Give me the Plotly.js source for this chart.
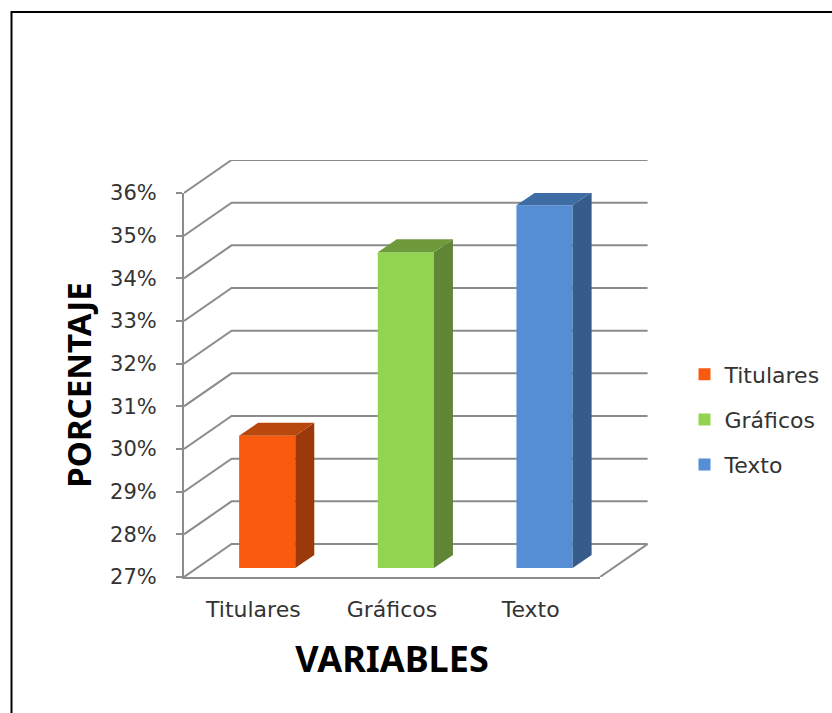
<!DOCTYPE html>
<html>
<head>
<meta charset="utf-8">
<script src="https://cdn.plot.ly/plotly-3.0.1.min.js"></script>
<style>html,body{margin:0;padding:0;background:#fff;overflow:hidden}</style>
</head>
<body>
<div id="chart" style="width:832px;height:713px"></div>
<script>
const categories = ['Titulares', 'Gráficos', 'Texto'];
const values = [30.1, 34.4, 35.5];
const frontColors = ['#F95A0E', '#92D450', '#558ED5'];
const topColors = ['#B8480E', '#6E9A3C', '#3E6DA5'];
const sideColors = ['#9A3A0A', '#5F8535', '#365C8B'];
const percentTicks = [27, 28, 29, 30, 31, 32, 33, 34, 35, 36];
const tickLabels = ['27%', '28%', '29%', '30%', '31%', '32%', '33%', '34%', '35%', '36%'];

// oblique projection, in axis units
const yMin = 27, yMax = 36, xMin = -0.5, xMax = 2.5;
const wallDx = 0.343, wallDy = 0.773;
const barDx = 0.137, barDy = 0.305, barShift = 0.1, barLift = 0.21, barWidth = 0.405;
const gridColor = '#8C8C8C';
const textColor = '#333333';
const family = '"DejaVu Sans", Verdana, sans-serif';
const xTickFont = {family: family, size: 22, color: textColor};
const yTickFont = {family: family, size: 21, color: textColor};
const titleFamily = '"Noto Sans", sans-serif';

const traces = [];

// wall and floor lines on the wider, hidden axes
const gx = [], gy = [];
percentTicks.forEach(v => {
  gx.push(xMin, xMin + wallDx, xMax + wallDx, null);
  gy.push(v, v + wallDy, v + wallDy, null);
});
gx.push(xMax, xMax + wallDx);
gy.push(yMin, yMin + wallDy);
traces.push({
  type: 'scatter', mode: 'lines', x: gx, y: gy, xaxis: 'x', yaxis: 'y',
  line: {color: gridColor, width: 2}, showlegend: false, hoverinfo: 'skip'
});

// bars: front faces through the bar trace, depth faces as filled polygons
categories.forEach((c, i) => {
  const x0 = i + barShift - barWidth / 2, x1 = i + barShift + barWidth / 2;
  const top = values[i] + barLift, base = yMin + barLift;
  traces.push({
    type: 'bar', name: c, legendgroup: c, x: [i + barShift], y: [top - base], base: [base], width: [barWidth],
    xaxis: 'x2', yaxis: 'y2', marker: {color: frontColors[i], line: {width: 0}}, hoverinfo: 'skip'
  });
  traces.push({
    type: 'scatter', mode: 'lines', fill: 'toself', fillcolor: sideColors[i],
    x: [x1, x1 + barDx, x1 + barDx, x1, x1], y: [base, base + barDy, top + barDy, top, base],
    xaxis: 'x2', yaxis: 'y2', line: {width: 0}, showlegend: false, hoverinfo: 'skip', legendgroup: c
  });
  traces.push({
    type: 'scatter', mode: 'lines', fill: 'toself', fillcolor: topColors[i],
    x: [x0, x0 + barDx, x1 + barDx, x1, x0], y: [top, top + barDy, top + barDy, top, top],
    xaxis: 'x2', yaxis: 'y2', line: {width: 0}, showlegend: false, hoverinfo: 'skip', legendgroup: c
  });
});

const W = 832, H = 713, L = 184, R = 648, T = 160, B = 577;
const frontRight = 600, frontTop = 193;
const layout = {
  width: W, height: H,
  margin: {l: L, r: W - R, t: T, b: H - B, pad: 0, autoexpand: false},
  paper_bgcolor: '#ffffff', plot_bgcolor: 'rgba(0,0,0,0)',
  barmode: 'overlay',
  showlegend: true,
  legend: {
    x: (684.5 - L) / (R - L), xanchor: 'left', y: (B - 353.5) / (B - T), yanchor: 'top',
    font: xTickFont, tracegroupgap: 13.5, bgcolor: 'rgba(0,0,0,0)'
  },
  // hidden axes carrying the walls
  xaxis: {domain: [0, 1], range: [xMin, xMin + (xMax - xMin) * (R - L) / (frontRight - L)], visible: false, anchor: 'y'},
  yaxis: {domain: [0, 1], range: [yMin, yMin + (yMax - yMin) * (B - T) / (B - frontTop)], visible: false, anchor: 'x'},
  // visible axes on the front plane
  xaxis2: {
    domain: [0, (frontRight - L) / (R - L)], anchor: 'y2',
    type: 'linear', range: [xMin, xMax], tickmode: 'array', tickvals: [0, 1, 2], ticktext: categories,
    showgrid: false, zeroline: false, showline: true, linecolor: gridColor, linewidth: 2,
    ticks: '', ticklabelstandoff: 12, tickfont: xTickFont,
    title: {text: 'VARIABLES', font: {family: titleFamily, size: 36, color: '#000000', weight: 700}, standoff: 25}
  },
  yaxis2: {
    domain: [0, (B - frontTop) / (B - T)], anchor: 'x2',
    type: 'linear', range: [yMin, yMax], tickmode: 'array', tickvals: percentTicks, ticktext: tickLabels,
    showgrid: false, zeroline: false, showline: true, linecolor: gridColor, linewidth: 2,
    ticks: 'outside', ticklen: 6, tickwidth: 2, tickcolor: gridColor, ticklabelstandoff: 15, tickfont: yTickFont,
    title: {text: 'PORCENTAJE', font: {family: titleFamily, size: 33, color: '#000000', weight: 700}, standoff: 9}
  },
  shapes: [{
    type: 'path', xref: 'paper', yref: 'paper', layer: 'above',
    path: 'M ' + ((W + 10 - L) / (R - L)) + ' ' + ((B - 12) / (B - T)) +
          ' L ' + ((11.5 - L) / (R - L)) + ' ' + ((B - 12) / (B - T)) +
          ' L ' + ((11.5 - L) / (R - L)) + ' ' + ((B - H - 10) / (B - T)),
    line: {color: '#000000', width: 2}
  }]
};
Plotly.newPlot('chart', traces, layout, {staticPlot: true, displayModeBar: false});
</script>
</body>
</html>
